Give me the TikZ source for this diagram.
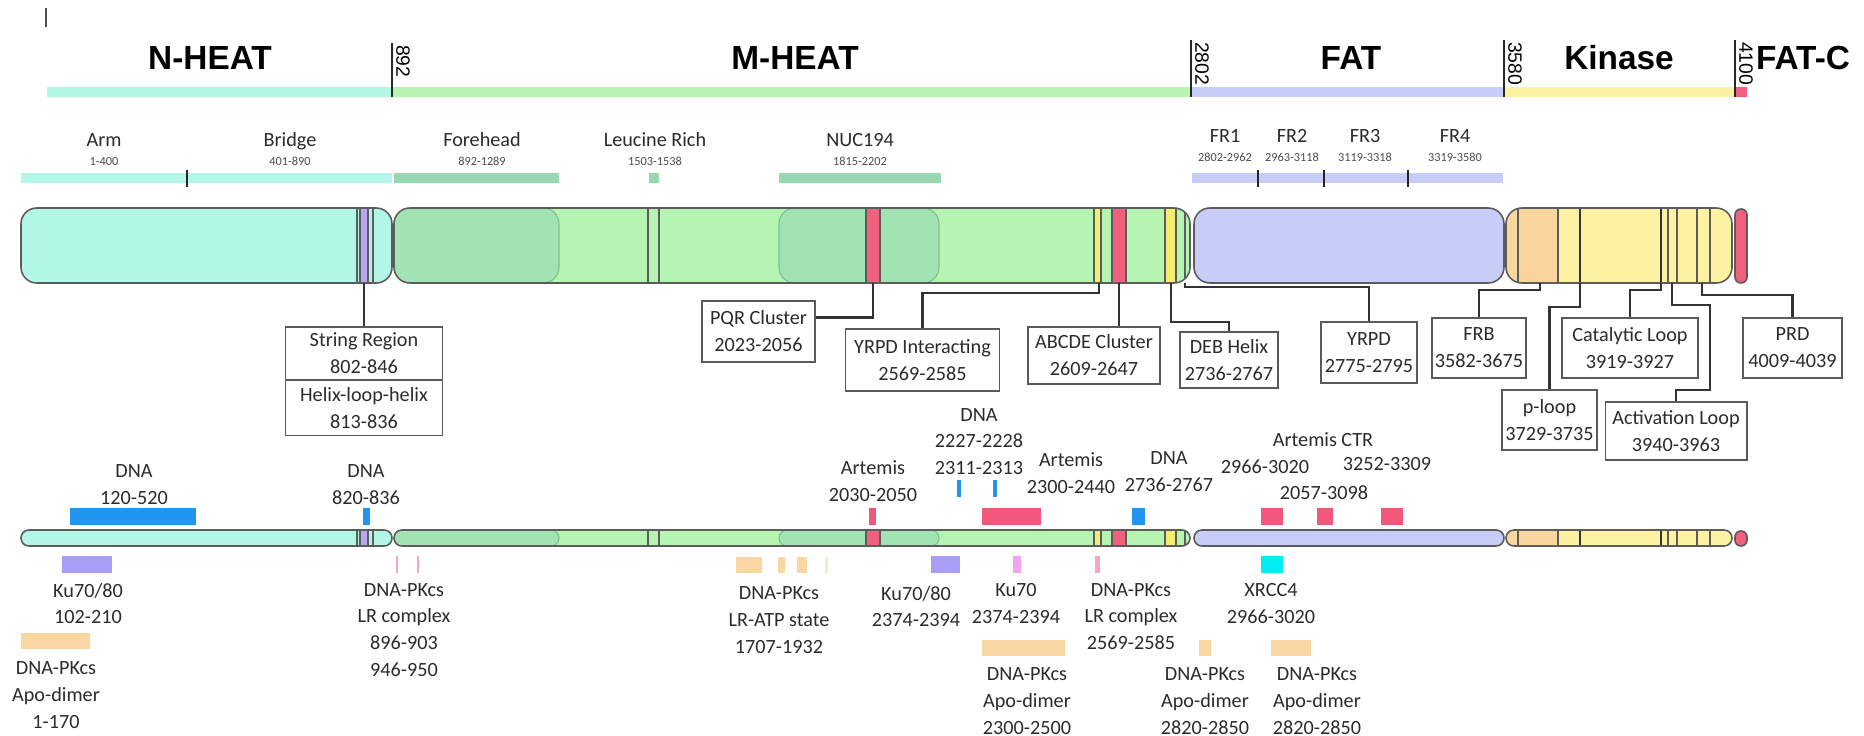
\documentclass[tikz,border=0pt]{standalone}
\usepackage{fontspec}
\setmainfont{Carlito}
\newfontfamily\hdrfamily{Liberation Sans}
\usepackage{xcolor}
\usepackage{tikz}
\usetikzlibrary{positioning,calc}

\definecolor{nheat}{HTML}{B3F7E6}
\definecolor{mheat}{HTML}{B6F5B1}
\definecolor{mdark}{HTML}{A2E3B4}
\definecolor{mline}{HTML}{7DBF8E}
\definecolor{sdark}{HTML}{96D9B0}
\definecolor{fat}{HTML}{C7CDF7}
\definecolor{kin}{HTML}{FCF2A2}
\definecolor{kinor}{HTML}{F9D69E}
\definecolor{fatc}{HTML}{F2607F}
\definecolor{purp}{HTML}{B9A6EE}
\definecolor{yel}{HTML}{F3EE72}
\definecolor{outl}{HTML}{5C5C5C}
\definecolor{dnab}{HTML}{2196EE}
\definecolor{artp}{HTML}{F2587C}
\definecolor{kup}{HTML}{A99EF5}
\definecolor{apo}{HTML}{FAD7A2}
\definecolor{lrp}{HTML}{F7A6C2}
\definecolor{kuv}{HTML}{F2A4EE}
\definecolor{xrc}{HTML}{00EEF2}
\definecolor{txt}{HTML}{2B2B2B}
\definecolor{boxl}{HTML}{5A5A5A}
\definecolor{linkc}{HTML}{333333}

% one pixel of the layout grid
\def\pxu{*0.5669pt}

\begin{document}
\begin{tikzpicture}[x=0.02cm, y=-0.02cm,
    seg/.style={draw=outl, line width=0.9pt},
    strp/.style={draw=outl, line width=0.6pt},
    hdr/.style={font=\hdrfamily\bfseries\fontsize{19}{22}\selectfont, inner sep=0pt},
    tick/.style={draw=black!85, line width=1.2pt},
    tlab/.style={font=\hdrfamily\fontsize{11}{12}\selectfont, rotate=-90, anchor=south west, inner sep=1pt},
    sub/.style={font=\fontsize{11.5}{13}\selectfont, text=txt, inner sep=0pt, text height=7.5pt, text depth=2.5pt},
    rng/.style={font=\fontsize{7}{8}\selectfont, text=txt!85, inner sep=0pt, text height=5pt, text depth=0pt},
    lbl/.style={font=\fontsize{11.5}{15.3}\selectfont, text=txt, align=center, inner sep=0pt},
    cbox/.style={draw=boxl, line width=0.9pt, fill=white, align=center, inner sep=0pt, font=\fontsize{11.5}{15.3}\selectfont, text=txt},
    link/.style={draw=linkc, line width=1.3pt}]

    \useasboundingbox (0,0) rectangle (1864,736);
    \draw[black!70, line width=0.8pt] (46,8) -- (46,27);

    % domain header
    \fill[nheat] (47,87) rectangle (392,97);
    \fill[mheat] (392,87) rectangle (1191,97);
    \fill[fat] (1191,87) rectangle (1504,97);
    \fill[kin] (1504,87) rectangle (1735,97);
    \fill[fatc] (1735,87) rectangle (1747,97);
    \node[hdr] (hN) at (210,58) {N-HEAT};
    \node[hdr] (hM) at (795,58) {M-HEAT};
    \node[hdr] (hF) at (1351,58) {FAT};
    \node[hdr] (hK) at (1619,58) {Kinase};
    \node[hdr] (hC) at (1803,58) {FAT-C};
    \draw[tick] (392,43) -- (392,97);
    \draw[tick] (1191,40) -- (1191,97);
    \draw[tick] (1504,40) -- (1504,97);
    \draw[tick] (1735,40) -- (1735,97);
    \node[tlab] (t892) at (394,43) {892};
    \node[tlab] (t2802) at (1193,40) {2802};
    \node[tlab] (t3580) at (1506,40) {3580};
    \node[tlab] (t4100) at (1737,40) {4100};

    % sub-domains
    \fill[nheat] (21,173) rectangle (392,183);
    \fill[sdark] (394,173) rectangle (559,183);
    \fill[sdark] (649,173) rectangle (659,183);
    \fill[sdark] (779,173) rectangle (941,183);
    \fill[fat] (1192,173) rectangle (1503,183);
    \foreach \tx in {187,1258,1324,1408}
        \draw[tick, line width=1.5pt] (\tx,170) -- (\tx,187);
    \node[sub] (arm) at (104,142) {Arm};
    \node[rng, below=3pt of arm] {1-400};
    \node[sub] (bridge) at (290,142) {Bridge};
    \node[rng, below=3pt of bridge] {401-890};
    \node[sub] (fore) at (482,142) {Forehead};
    \node[rng, below=3pt of fore] {892-1289};
    \node[sub] (leu) at (655,142) {Leucine Rich};
    \node[rng, below=3pt of leu] {1503-1538};
    \node[sub] (nuc) at (860,142) {NUC194};
    \node[rng, below=3pt of nuc] {1815-2202};
    \node[sub] (fr1) at (1225,138) {FR1};
    \node[rng, below=3pt of fr1] {2802-2962};
    \node[sub] (fr2) at (1292,138) {FR2};
    \node[rng, below=3pt of fr2] {2963-3118};
    \node[sub] (fr3) at (1365,138) {FR3};
    \node[rng, below=3pt of fr3] {3119-3318};
    \node[sub] (fr4) at (1455,138) {FR4};
    \node[rng, below=3pt of fr4] {3319-3580};

    % the two tracks: full bar and thin bar
    \foreach \yt/\yb/\rc in {208/283/9pt, 530/546/4.5pt}{
        \draw[seg, rounded corners=\rc, fill=nheat] (21,\yt) rectangle (392,\yb);
        \draw[strp] (357,\yt) -- (357,\yb) (373,\yt) -- (373,\yb);
        \draw[strp, fill=purp] (360,\yt) rectangle (368,\yb);
        \begin{scope}
            \clip[rounded corners=\rc] (394,\yt) rectangle (1190,\yb);
            \fill[mheat] (394,\yt) rectangle (1190,\yb);
            \draw[draw=mline, line width=0.6pt, fill=mdark, rounded corners=\rc] (370,\yt) rectangle (559,\yb);
            \draw[draw=mline, line width=0.6pt, fill=mdark, rounded corners=\rc] (779,\yt) rectangle (939,\yb);
            \draw[strp] (648,\yt) -- (648,\yb) (659,\yt) -- (659,\yb) (1185,\yt) -- (1185,\yb);
            \draw[strp, fill=fatc] (866,\yt) rectangle (880,\yb);
            \draw[strp, fill=yel] (1094,\yt) rectangle (1101,\yb);
            \draw[strp, fill=fatc] (1112,\yt) rectangle (1126,\yb);
            \draw[strp, fill=yel] (1165,\yt) rectangle (1176,\yb);
        \end{scope}
        \draw[seg, rounded corners=\rc] (394,\yt) rectangle (1190,\yb);
        \draw[seg, rounded corners=\rc, fill=fat] (1194,\yt) rectangle (1504,\yb);
        \begin{scope}
            \clip[rounded corners=\rc] (1506,\yt) rectangle (1732,\yb);
            \fill[kin] (1506,\yt) rectangle (1732,\yb);
            \fill[kinor] (1506,\yt) rectangle (1558,\yb);
            \foreach \lx in {1518,1558,1668,1677,1697,1710}
                \draw[strp] (\lx,\yt) -- (\lx,\yb);
            \foreach \lx in {1580,1661}
                \draw[strp, line width=1.2pt, draw=black!80] (\lx,\yt) -- (\lx,\yb);
        \end{scope}
        \draw[seg, rounded corners=\rc] (1506,\yt) rectangle (1732,\yb);
        \draw[seg, rounded corners=3.3pt, fill=fatc] (1735,\yt+1) rectangle (1747,\yb);
    }

    % callout sources on the full bar
    \coordinate (sStr) at (364,283);
    \coordinate (sPQR) at (873,283);
    \coordinate (sYI) at (1099,283);
    \coordinate (sABC) at (1119,283);
    \coordinate (sDEB) at (1171,283);
    \coordinate (sYR) at (1185,283);
    \coordinate (sFRB) at (1540,283);
    \coordinate (sPL) at (1580,283);
    \coordinate (sCat) at (1661,283);
    \coordinate (sAct) at (1672,283);
    \coordinate (sPRD) at (1702,283);

    % callout boxes
    \node[cbox, minimum width=158\pxu, minimum height=53\pxu] (str) at (364,353.5) {String Region\\802-846};
    \node[cbox, minimum width=158\pxu, minimum height=56\pxu, below=-0.9pt of str] (hlh) {Helix-loop-helix\\813-836};
    \node[cbox, minimum width=113\pxu, minimum height=61\pxu] (pqr) at (758.5,331.5) {PQR Cluster\\2023-2056};
    \node[cbox, minimum width=155\pxu, minimum height=62\pxu] (yi) at (922.5,360) {YRPD Interacting\\2569-2585};
    \node[cbox, minimum width=132\pxu, minimum height=57\pxu] (abc) at (1094,355.5) {ABCDE Cluster\\2609-2647};
    \node[cbox, minimum width=98\pxu, minimum height=56\pxu] (deb) at (1229,360) {DEB Helix\\2736-2767};
    \node[cbox, minimum width=96\pxu, minimum height=61\pxu] (yrpd) at (1369,352.5) {YRPD\\2775-2795};
    \node[cbox, minimum width=94\pxu, minimum height=60\pxu] (frb) at (1479,348) {FRB\\3582-3675};
    \node[cbox, minimum width=136\pxu, minimum height=60\pxu] (cat) at (1630,348) {Catalytic Loop\\3919-3927};
    \node[cbox, minimum width=99\pxu, minimum height=60\pxu] (prd) at (1792.5,348) {PRD\\4009-4039};
    \node[cbox, minimum width=95\pxu, minimum height=60\pxu] (ploop) at (1549.5,420) {p-loop\\3729-3735};
    \node[cbox, minimum width=142\pxu, minimum height=58\pxu] (act) at (1676,431) {Activation Loop\\3940-3963};

    \draw[link] (sStr) -- (str.north);
    \draw[link] (sPQR) |- ([yshift=8pt]pqr.east);
    \draw[link] (sYI) -- ++(0,10) -| (yi.north);
    \draw[link] (sABC) -- (sABC |- abc.north);
    \draw[link] (sDEB) -- ++(0,39) -| (deb.north);
    \draw[link] (sYR) -- ++(0,4) -| (yrpd.north);
    \draw[link] (sFRB) -- ++(0,7) -| (frb.north);
    \draw[link] (sPL) -- ++(0,24) -| (ploop.north);
    \draw[link] (sCat) -- ++(0,7) -| (cat.north);
    \draw[link] (sAct) -- ++(0,22) -- ++(38,0) -- ++(0,85) -| (act.north);
    \draw[link] (sPRD) -- ++(0,12) -| (prd.north);

    % binding regions above the thin bar
    \fill[dnab] (70,508) rectangle (196,525);
    \fill[dnab] (363,508) rectangle (370,525);
    \fill[dnab] (1132,508) rectangle (1145,525);
    \foreach \a/\b in {957/961,993/997}
        \fill[dnab] (\a,480) rectangle (\b,497);
    \foreach \a/\b in {869/876,982/1041,1261/1283,1317/1333,1381/1403}
        \fill[artp] (\a,508) rectangle (\b,525);
    \node[lbl] (dna1) at (134,484.5) {DNA\\120-520};
    \node[lbl] (dna2) at (366,484.5) {DNA\\820-836};
    \node[lbl] (art1) at (873,481.5) {Artemis\\2030-2050};
    \node[lbl] (dna3) at (979,441.5) {DNA\\2227-2228\\2311-2313};
    \node[lbl] (art2) at (1071,473.5) {Artemis\\2300-2440};
    \node[lbl] (dna4) at (1169,471.5) {DNA\\2736-2767};
    \node[lbl] (ctr) at (1323,440) {Artemis CTR};
    \node[lbl] (ctrA) at (1265,467) {2966-3020};
    \node[lbl] (ctrB) at (1387,464) {3252-3309};
    \node[lbl] (ctrC) at (1324,493) {2057-3098};

    % binding regions below the thin bar
    \fill[kup] (62,556) rectangle (112,573);
    \fill[kup] (931,556) rectangle (960,573);
    \fill[kuv] (1013,556) rectangle (1021,573);
    \fill[xrc] (1261,556) rectangle (1283,573);
    \foreach \a/\b in {396/398,417/419,1095/1100}
        \fill[lrp] (\a,556) rectangle (\b,573);
    \foreach \a/\b in {736/762,778/785,797/807}
        \fill[apo] (\a,557) rectangle (\b,573);
    \fill[apo!60] (825,557) rectangle (828,573);
    \fill[apo] (21,633) rectangle (90,649);
    \foreach \a/\b in {982/1065,1199/1211,1271/1311}
        \fill[apo] (\a,640) rectangle (\b,656);
    \node[lbl] (ku1) at (88,603.5) {Ku70/80\\102-210};
    \node[lbl] (apo1) at (56,695) {DNA-PKcs\\Apo-dimer\\1-170};
    \node[lbl] (lr1) at (404,630) {DNA-PKcs\\LR complex\\896-903\\946-950};
    \node[lbl] (lratp) at (779,620) {DNA-PKcs\\LR-ATP state\\1707-1932};
    \node[lbl] (ku2) at (916,606.5) {Ku70/80\\2374-2394};
    \node[lbl] (ku70) at (1016,603.5) {Ku70\\2374-2394};
    \node[lbl] (apo2) at (1027,701) {DNA-PKcs\\Apo-dimer\\2300-2500};
    \node[lbl] (lr2) at (1131,616.5) {DNA-PKcs\\LR complex\\2569-2585};
    \node[lbl] (xr) at (1271,603.5) {XRCC4\\2966-3020};
    \node[lbl] (apo3) at (1205,701) {DNA-PKcs\\Apo-dimer\\2820-2850};
    \node[lbl] (apo4) at (1317,701) {DNA-PKcs\\Apo-dimer\\2820-2850};
\end{tikzpicture}
\end{document}
